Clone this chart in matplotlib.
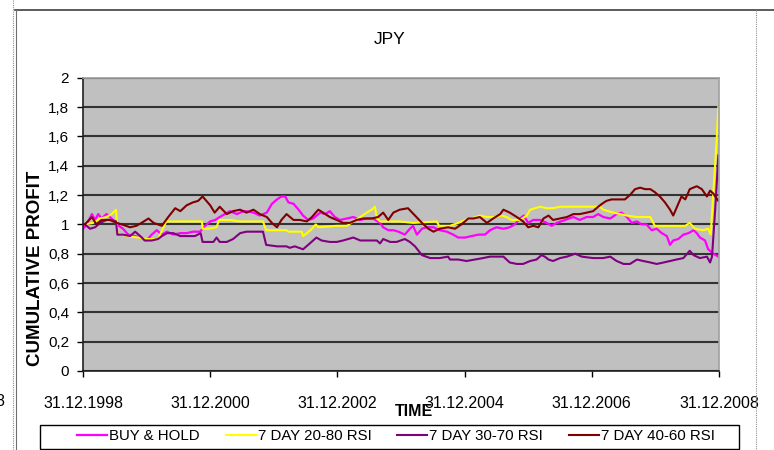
import matplotlib.pyplot as plt
from matplotlib.lines import Line2D
from matplotlib.patches import Rectangle

W, H = 774, 450
plt.rcParams['font.family'] = ['Liberation Sans', 'DejaVu Sans']

# time axis: years since 31.12.1998
x_ticks = [0, 2, 4, 6, 8, 10]
x_labels = ['31.12.1998', '31.12.2000', '31.12.2002', '31.12.2004', '31.12.2006', '31.12.2008']
y_ticks = [0, 0.2, 0.4, 0.6, 0.8, 1.0, 1.2, 1.4, 1.6, 1.8, 2.0]
y_labels = ['0', '0,2', '0,4', '0,6', '0,8', '1', '1,2', '1,4', '1,6', '1,8', '2']

# BUY & HOLD
bh_t = [0.00, 0.06, 0.14, 0.19, 0.24, 0.29, 0.37, 0.45, 0.53, 0.63, 0.71, 0.82, 0.92, 1.00,
        1.08, 1.16, 1.24, 1.32, 1.42, 1.53, 1.63, 1.73, 1.84, 1.92, 2.00, 2.08, 2.15, 2.23,
        2.31, 2.42, 2.52, 2.57, 2.68, 2.78, 2.89, 2.97, 3.05, 3.12, 3.18, 3.23, 3.31, 3.39,
        3.46, 3.54, 3.62, 3.73, 3.81, 3.88, 3.96, 4.04, 4.15, 4.25, 4.36, 4.46, 4.56, 4.67,
        4.72, 4.80, 4.88, 4.96, 5.06, 5.14, 5.19, 5.25, 5.33, 5.40, 5.51, 5.61, 5.72, 5.82,
        5.90, 6.01, 6.11, 6.22, 6.32, 6.40, 6.50, 6.61, 6.71, 6.79, 6.87, 6.93, 7.00, 7.08,
        7.19, 7.29, 7.37, 7.45, 7.58, 7.71, 7.81, 7.92, 8.02, 8.10, 8.18, 8.29, 8.39, 8.47,
        8.55, 8.63, 8.71, 8.78, 8.86, 8.94, 9.02, 9.10, 9.18, 9.23, 9.28, 9.36, 9.44, 9.52,
        9.60, 9.65, 9.70, 9.78, 9.83, 9.91, 9.99]
bh_v = [0.97, 1.00, 1.07, 1.03, 1.07, 1.04, 1.07, 1.04, 1.00, 0.97, 0.93, 0.92, 0.91, 0.89,
        0.93, 0.96, 0.93, 0.95, 0.93, 0.94, 0.94, 0.95, 0.95, 0.99, 1.02, 1.03, 1.05, 1.07,
        1.09, 1.07, 1.09, 1.09, 1.08, 1.06, 1.08, 1.14, 1.17, 1.19, 1.19, 1.15, 1.14, 1.10,
        1.06, 1.03, 1.04, 1.08, 1.07, 1.09, 1.05, 1.03, 1.04, 1.05, 1.03, 1.04, 1.04, 1.01,
        0.98, 0.96, 0.96, 0.95, 0.93, 0.97, 0.99, 0.93, 0.97, 0.98, 0.98, 0.96, 0.95, 0.93,
        0.91, 0.91, 0.92, 0.93, 0.93, 0.96, 0.98, 0.97, 0.98, 1.00, 1.04, 1.06, 1.01, 1.03,
        1.03, 1.01, 0.99, 1.01, 1.03, 1.05, 1.03, 1.05, 1.05, 1.07, 1.05, 1.04, 1.07, 1.08,
        1.05, 1.01, 1.02, 1.00, 1.00, 0.96, 0.97, 0.94, 0.92, 0.86, 0.89, 0.90, 0.93, 0.94,
        0.96, 0.94, 0.91, 0.89, 0.83, 0.80, 0.78]

# 7 DAY 20-80 RSI
rsi2080_t = [0.00, 0.03, 0.16, 0.27, 0.37, 0.45, 0.52, 0.54, 0.69, 0.87, 1.00, 1.18, 1.31, 1.53,
             1.87, 1.88, 1.97, 2.10, 2.14, 2.31, 2.47, 2.83, 2.88, 3.20, 3.23, 3.44, 3.46, 3.52,
             3.60, 3.66, 3.70, 3.99, 4.15, 4.25, 4.36, 4.46, 4.54, 4.59, 4.62, 4.67, 4.98, 5.19,
             5.56, 5.60, 5.77, 5.90, 6.01, 6.11, 6.24, 6.35, 6.48, 6.58, 6.66, 6.74, 6.87, 6.98,
             7.03, 7.19, 7.29, 7.39, 7.50, 8.13, 8.18, 8.34, 8.55, 8.71, 8.92, 8.99, 9.23, 9.47,
             9.54, 9.62, 9.75, 9.83, 9.87, 9.91, 9.96, 9.99]
rsi2080_v = [1.00, 1.00, 1.01, 1.04, 1.05, 1.07, 1.10, 0.94, 0.92, 0.91, 0.90, 0.90, 1.02, 1.02,
             1.02, 0.97, 0.97, 0.98, 1.03, 1.03, 1.02, 1.02, 0.96, 0.96, 0.95, 0.95, 0.92, 0.94,
             0.97, 1.00, 0.98, 0.99, 0.99, 1.02, 1.05, 1.08, 1.10, 1.12, 1.04, 1.02, 1.02, 1.01,
             1.02, 0.99, 0.99, 1.01, 1.03, 1.04, 1.06, 1.05, 1.05, 1.06, 1.05, 1.03, 1.03, 1.06,
             1.10, 1.12, 1.11, 1.11, 1.12, 1.12, 1.10, 1.08, 1.06, 1.05, 1.05, 0.99, 0.99, 0.99,
             1.01, 0.97, 0.96, 0.97, 0.93, 1.21, 1.55, 1.80]

# 7 DAY 30-70 RSI
rsi3070_t = [0.00, 0.03, 0.11, 0.19, 0.27, 0.37, 0.45, 0.52, 0.54, 0.63, 0.74, 0.82, 0.90, 0.97,
             1.08, 1.18, 1.24, 1.32, 1.42, 1.53, 1.76, 1.85, 1.88, 1.97, 2.05, 2.10, 2.15, 2.26,
             2.36, 2.47, 2.57, 2.68, 2.83, 2.88, 3.05, 3.20, 3.25, 3.33, 3.46, 3.54, 3.67, 3.75,
             3.88, 3.99, 4.09, 4.25, 4.36, 4.49, 4.62, 4.67, 4.72, 4.83, 4.93, 5.06, 5.14, 5.22,
             5.33, 5.46, 5.61, 5.74, 5.77, 5.90, 6.03, 6.16, 6.29, 6.40, 6.50, 6.61, 6.71, 6.82,
             6.92, 7.03, 7.13, 7.21, 7.26, 7.32, 7.39, 7.50, 7.61, 7.74, 7.84, 8.02, 8.18, 8.29,
             8.39, 8.50, 8.60, 8.71, 8.81, 8.92, 9.02, 9.13, 9.23, 9.33, 9.44, 9.54, 9.60, 9.70,
             9.81, 9.86, 9.89, 9.94, 9.99]
rsi3070_v = [1.00, 1.00, 0.97, 0.98, 1.01, 1.03, 1.03, 1.02, 0.93, 0.93, 0.92, 0.95, 0.92, 0.89,
             0.89, 0.90, 0.92, 0.94, 0.94, 0.92, 0.92, 0.94, 0.88, 0.88, 0.88, 0.91, 0.88, 0.88,
             0.90, 0.94, 0.95, 0.95, 0.95, 0.86, 0.85, 0.85, 0.84, 0.85, 0.83, 0.86, 0.91, 0.89,
             0.88, 0.88, 0.89, 0.91, 0.89, 0.89, 0.89, 0.87, 0.90, 0.88, 0.88, 0.90, 0.88, 0.85,
             0.79, 0.77, 0.77, 0.78, 0.76, 0.76, 0.75, 0.76, 0.77, 0.78, 0.78, 0.78, 0.74, 0.73,
             0.73, 0.75, 0.76, 0.79, 0.78, 0.76, 0.75, 0.77, 0.78, 0.80, 0.78, 0.77, 0.77, 0.78,
             0.75, 0.73, 0.73, 0.76, 0.75, 0.74, 0.73, 0.74, 0.75, 0.76, 0.77, 0.82, 0.79, 0.77,
             0.78, 0.74, 0.78, 1.10, 1.47]

# 7 DAY 40-60 RSI
rsi4060_t = [0.00, 0.03, 0.14, 0.21, 0.29, 0.42, 0.53, 0.61, 0.74, 0.84, 0.92, 1.03, 1.11, 1.24,
             1.34, 1.45, 1.53, 1.63, 1.73, 1.81, 1.88, 2.00, 2.07, 2.15, 2.26, 2.36, 2.47, 2.57,
             2.68, 2.78, 2.89, 2.97, 3.05, 3.12, 3.20, 3.31, 3.41, 3.52, 3.60, 3.70, 3.81, 3.88,
             3.99, 4.09, 4.20, 4.30, 4.41, 4.54, 4.64, 4.72, 4.80, 4.88, 4.98, 5.11, 5.22, 5.33,
             5.43, 5.51, 5.61, 5.74, 5.85, 5.95, 6.06, 6.14, 6.24, 6.35, 6.45, 6.56, 6.61, 6.71,
             6.82, 6.92, 7.00, 7.08, 7.16, 7.24, 7.32, 7.39, 7.50, 7.61, 7.71, 7.81, 7.92, 8.02,
             8.10, 8.16, 8.23, 8.31, 8.42, 8.52, 8.60, 8.68, 8.76, 8.84, 8.92, 8.99, 9.07, 9.15,
             9.23, 9.28, 9.33, 9.41, 9.47, 9.54, 9.65, 9.73, 9.81, 9.86, 9.91, 9.99]
rsi4060_v = [1.00, 1.00, 1.05, 1.00, 1.03, 1.03, 1.01, 1.00, 0.98, 0.99, 1.01, 1.04, 1.01, 0.99,
             1.05, 1.11, 1.09, 1.13, 1.15, 1.16, 1.19, 1.13, 1.08, 1.12, 1.07, 1.09, 1.10, 1.08,
             1.10, 1.07, 1.05, 1.01, 0.98, 1.03, 1.07, 1.03, 1.03, 1.02, 1.05, 1.10, 1.07, 1.05,
             1.03, 1.01, 1.01, 1.03, 1.04, 1.04, 1.05, 1.08, 1.03, 1.08, 1.10, 1.11, 1.06, 1.01,
             0.97, 0.95, 0.97, 0.98, 0.97, 1.00, 1.04, 1.04, 1.05, 1.01, 1.04, 1.07, 1.10, 1.08,
             1.05, 1.02, 0.98, 0.99, 0.98, 1.04, 1.06, 1.03, 1.04, 1.05, 1.07, 1.07, 1.08, 1.09,
             1.12, 1.14, 1.16, 1.17, 1.17, 1.17, 1.20, 1.24, 1.25, 1.24, 1.24, 1.22, 1.19, 1.15,
             1.10, 1.06, 1.11, 1.19, 1.17, 1.24, 1.26, 1.24, 1.19, 1.23, 1.21, 1.16]


def fx(px):
    return px / W


def fy(py):
    return 1 - py / H


fig = plt.figure(figsize=(W / 100, H / 100), dpi=100)

# outer chart frame
fig.add_artist(Line2D([fx(15), fx(774)], [fy(10), fy(10)], color='#404040', lw=1.2))
fig.add_artist(Line2D([fx(13), fx(13)], [fy(0), fy(450)], color='#909090', lw=0.8, ls=(0, (1, 1))))
fig.add_artist(Line2D([fx(16), fx(16)], [fy(10), fy(450)], color='#707070', lw=0.8))
fig.add_artist(Line2D([fx(756), fx(756)], [fy(10), fy(450)], color='#909090', lw=0.8, ls=(0, (1, 1))))
fig.text(fx(4), fy(401), '8', ha='right', va='center', fontsize=11.5)

ax = fig.add_axes([fx(83), fy(371), fx(636), (371 - 77.7) / H])
ax.set_facecolor('#c0c0c0')

ax.plot(bh_t, bh_v, color='#ff00ff', lw=1.6, label='BUY & HOLD')
ax.plot(rsi2080_t, rsi2080_v, color='#ffff00', lw=1.5, label='7 DAY 20-80 RSI')
ax.plot(rsi3070_t, rsi3070_v, color='#800080', lw=1.5, label='7 DAY 30-70 RSI')
ax.plot(rsi4060_t, rsi4060_v, color='#800000', lw=1.5, label='7 DAY 40-60 RSI')

ax.set_xlim(0, 10)
ax.set_ylim(0, 2)
ax.set_xticks(x_ticks)
ax.set_xticklabels(x_labels, fontsize=11.5)
ax.set_yticks(y_ticks)
ax.set_yticklabels(y_labels, fontsize=11)
ax.tick_params(axis='y', length=4, width=1, pad=6)
ax.tick_params(axis='x', length=4, width=1, pad=14)
ax.yaxis.grid(True, color='#333333', lw=1.5)
ax.set_axisbelow(True)
for side in ['left', 'bottom']:
    ax.spines[side].set_color('#202020')
    ax.spines[side].set_linewidth(1.2)
for side in ['top', 'right']:
    ax.spines[side].set_color('#a0a0a0')
    ax.spines[side].set_linewidth(1.2)

fig.text(fx(390), fy(39), 'JPY', ha='center', va='center', fontsize=12.5)
fig.text(fx(36), fy(268), 'CUMULATIVE PROFIT', rotation=90, ha='center', va='center',
         fontsize=13.5, fontweight='bold')
fig.text(fx(414), fy(412), 'TIME', ha='center', va='center', fontsize=11.5, fontweight='bold')

# legend box drawn separately so the entries can sit inside with Excel-like margins
fig.add_artist(Rectangle((fx(40), fy(449)), fx(699), 24 / H, transform=fig.transFigure,
                         facecolor='white', edgecolor='black', lw=1.0))
fig.legend(loc='center', bbox_to_anchor=(fx(77), fy(446), fx(638), 20 / H), mode='expand',
           ncol=4, fontsize=10.8, frameon=False, handlelength=2.0, handletextpad=0.15,
           borderpad=0, borderaxespad=0)

fig.savefig('out.png', dpi=100)
